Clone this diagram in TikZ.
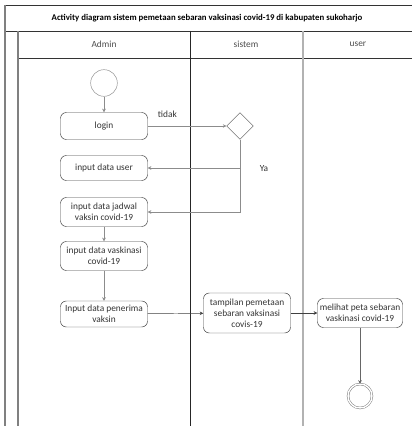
\documentclass[tikz,border=0pt]{standalone}
\usepackage{fontspec}
\setmainfont{Carlito}
\usetikzlibrary{shapes.geometric,arrows.meta}

\tikzset{
    action/.style = {draw=black!75, rounded corners=5pt, align=center, inner sep=1pt,
                     minimum width=2.61cm, text=black!80, font=\fontsize{8}{9.5}\selectfont},
    decision/.style = {draw=black!55, diamond, minimum size=0.8cm, inner sep=0pt},
    startnode/.style = {draw=black!45, circle, minimum size=0.8cm, inner sep=0pt},
    stopnode/.style = {draw=black!55, circle, double, double distance=1.2pt, minimum size=0.72cm, inner sep=0pt},
    flow/.style = {draw=black!45, -{Stealth[length=3pt,width=3pt]}},
    lane/.style = {draw=black!50, line width=0.9pt}
}

\begin{document}
\begin{tikzpicture}[x=0.03cm, y=-0.03cm]
        \useasboundingbox (0,0) rectangle (412,426);
        % pool and lanes
        \draw[black!80] (5,5) -- (412,5);
        \draw[black!80] (5,31) -- (412,31);
        \draw[black!80] (18,58) -- (412,58);
        \draw[lane] (5,5) -- (5,426);
        \draw[lane] (18,31) -- (18,426);
        \draw[black!85] (190,31) -- (190,426);
        \draw[lane, black!30] (303,31) -- (303,426);
        \node[font=\bfseries\fontsize{7.5}{9}\selectfont] (title) at (207,18) {Activity diagram sistem pemetaan sebaran vaksinasi covid-19 di kabupaten sukoharjo};
        \node[text=black!70, font=\fontsize{8}{9}\selectfont] (admin) at (104,44) {Admin};
        \node[text=black!70, font=\fontsize{8}{9}\selectfont] (sistem) at (246,44) {sistem};
        \node[text=black!70, font=\fontsize{8}{9}\selectfont] (usr) at (358,44) {user};

        % admin
        \node[startnode] (start) at (104,83) {};
        \node[action, minimum height=0.81cm] (login) at (104,126) {login};
        \node[action, minimum height=0.75cm] (user) at (104,168) {input data user};
        \node[action, minimum height=0.87cm] (jadwal) at (104,212) {input data jadwal\\vaksin covid-19};
        \node[action, minimum height=0.87cm] (vaksinasi) at (104,256) {input data vaskinasi\\covid-19};
        \node[action, minimum height=0.78cm] (penerima) at (104,314) {Input data penerima\\vaksin};
        % sistem
        \node[decision] (cek) at (240,126) {};
        \node[action, minimum height=1.2cm] (tampilan) at (247,313) {tampilan pemetaan\\sebaran vaksinasi\\covis-19};
        % user
        \node[action, minimum width=2.55cm, minimum height=0.87cm] (melihat) at (360,313) {melihat peta sebaran\\vaskinasi covid-19};
        \node[stopnode] (stop) at (360,396) {};

        \draw[flow] (start) -- (login);
        \draw[flow] (login) -- (cek) node[pos=0.25, above=4pt, text=black!80, font=\fontsize{8}{9}\selectfont] (tidak) {tidak};
        \draw[flow] (cek.south) |- (jadwal.east);
        \coordinate (ya) at (cek.south |- user.east);
        \draw[flow] (ya) -- (user.east);
        \node[text=black!80, font=\fontsize{8}{9}\selectfont] (yalabel) at (264,169) {Ya};
        \draw[flow] (jadwal) -- (vaksinasi);
        \draw[flow] (vaksinasi) -- (penerima);
        \draw[flow, draw=black!75] (penerima) -- (tampilan);
        \draw[flow, draw=black!75] (tampilan) -- (melihat);
        \draw[flow, draw=black!60] (melihat) -- (stop);
    \end{tikzpicture}
\end{document}
